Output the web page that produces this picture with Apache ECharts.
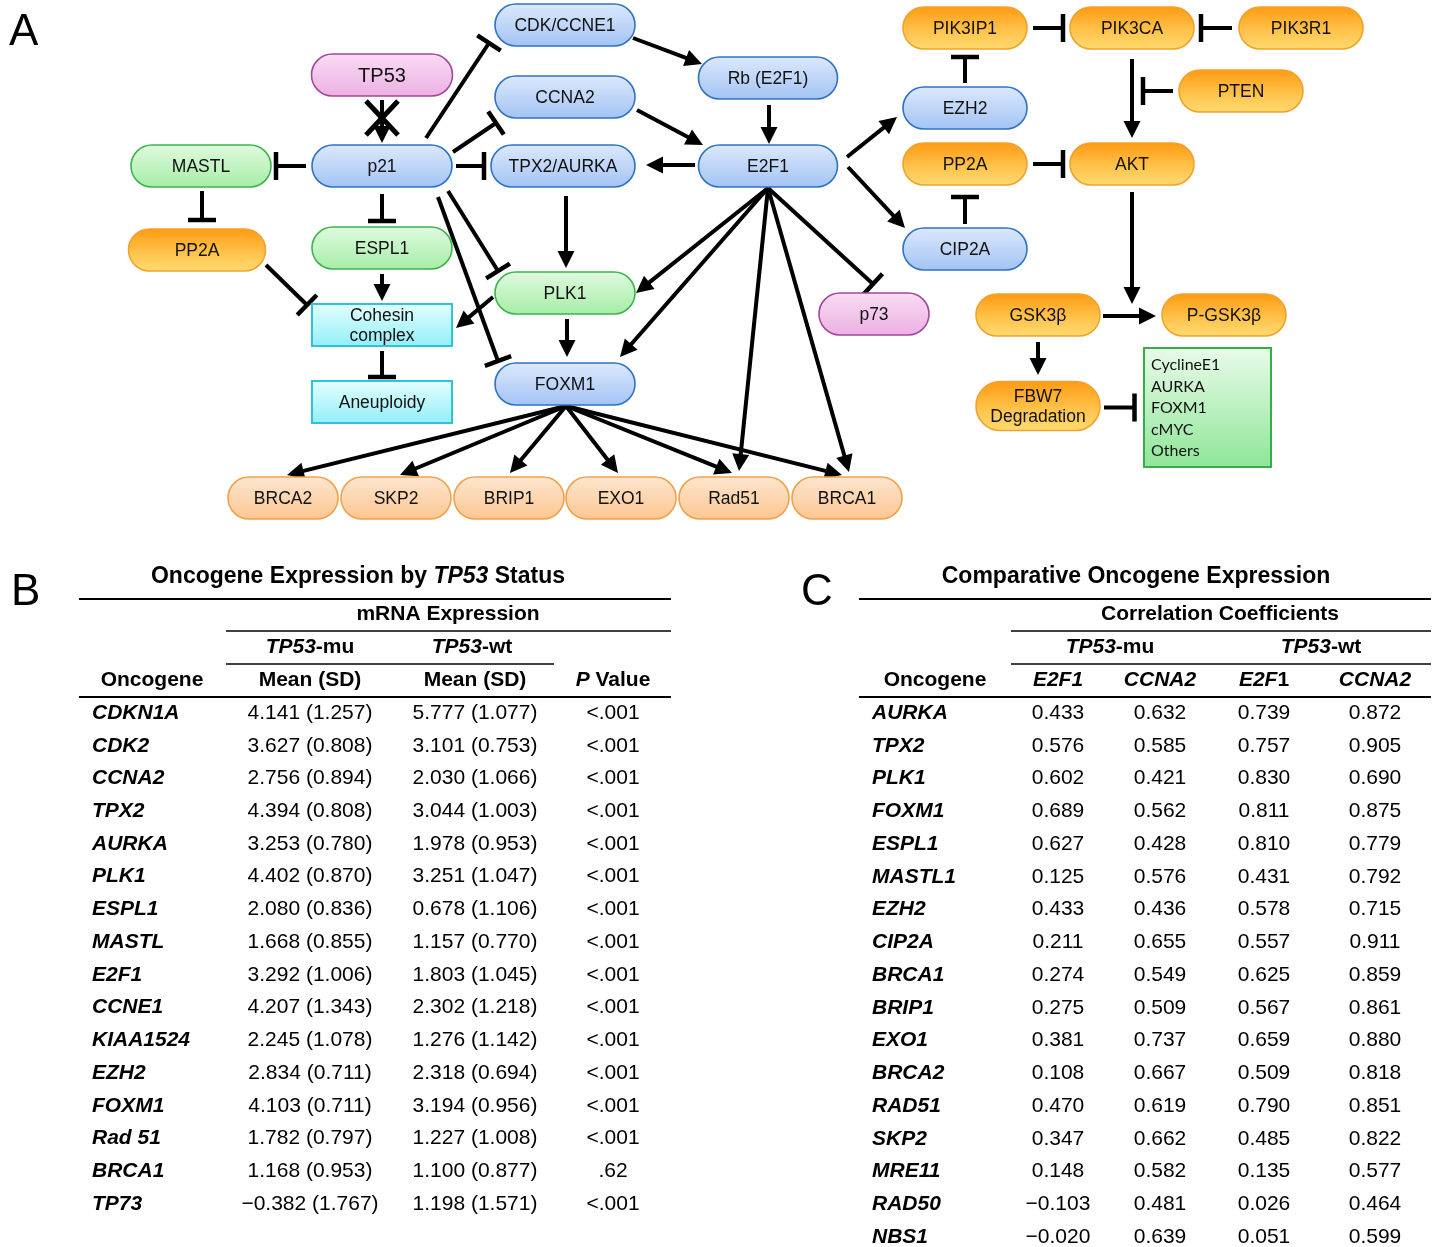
<!DOCTYPE html>
<html><head><meta charset="utf-8">
<script src="https://cdn.jsdelivr.net/npm/echarts@6/dist/echarts.min.js"></script>
<style>html,body{margin:0;padding:0;background:#fff}#c{width:1437px;height:1247px}</style>
</head><body><div id="c"></div>
<script>
// ================= DATA =================
// Panel A: pathway nodes
const nodeIds = ['TP53','p21','MASTL','PP2A_L','ESPL1','Cohesin','Aneuploidy','CDK','CCNA2','TPX2','PLK1','FOXM1','Rb','E2F1','p73',
  'BRCA2','SKP2','BRIP1','EXO1','Rad51','BRCA1','PIK3IP1','PIK3CA','PIK3R1','PTEN','EZH2','PP2A_R','AKT','CIP2A','GSK','PGSK','FBW7','TARGETS'];
const nodeLabels = ['TP53','p21','MASTL','PP2A','ESPL1','Cohesin\ncomplex','Aneuploidy','CDK/CCNE1','CCNA2','TPX2/AURKA','PLK1','FOXM1','Rb (E2F1)','E2F1','p73',
  'BRCA2','SKP2','BRIP1','EXO1','Rad51','BRCA1','PIK3IP1','PIK3CA','PIK3R1','PTEN','EZH2','PP2A','AKT','CIP2A','GSK3β','P-GSK3β','FBW7\nDegradation','CyclineE1\nAURKA\nFOXM1\ncMYC\nOthers'];
const nodeKinds = ['pink','blue','green','orange','green','cyan','cyan','blue','blue','blue','green','blue','blue','blue','pink',
  'peach','peach','peach','peach','peach','peach','orange','orange','orange','orange','blue','orange','orange','blue','orange','orange','orange','box'];
// Panel A: relations [from, to, type]
const edgeList = [
  ['TP53','p21','blocked'],['p21','MASTL','inhibit'],['MASTL','PP2A_L','inhibit'],['p21','ESPL1','inhibit'],['p21','TPX2','inhibit'],
  ['p21','CDK','inhibit'],['p21','CCNA2','inhibit'],['p21','PLK1','inhibit'],['p21','FOXM1','inhibit'],['ESPL1','Cohesin','activate'],
  ['PP2A_L','Cohesin','inhibit'],['PLK1','Cohesin','activate'],['Cohesin','Aneuploidy','inhibit'],['TPX2','PLK1','activate'],['PLK1','FOXM1','activate'],
  ['CDK','Rb','activate'],['CCNA2','E2F1','activate'],['Rb','E2F1','activate'],['E2F1','TPX2','activate'],['E2F1','PLK1','activate'],
  ['E2F1','FOXM1','activate'],['E2F1','Rad51','activate'],['E2F1','BRCA1','activate'],['E2F1','p73','inhibit'],['E2F1','EZH2','activate'],
  ['E2F1','CIP2A','activate'],['FOXM1','BRCA2','activate'],['FOXM1','SKP2','activate'],['FOXM1','BRIP1','activate'],['FOXM1','EXO1','activate'],
  ['FOXM1','Rad51','activate'],['FOXM1','BRCA1','activate'],['PIK3IP1','PIK3CA','inhibit'],['PIK3R1','PIK3CA','inhibit'],['EZH2','PIK3IP1','inhibit'],
  ['PIK3CA','AKT','activate'],['PTEN','PIK3CA','inhibit'],['PP2A_R','AKT','inhibit'],['CIP2A','PP2A_R','inhibit'],['AKT','PGSK','activate'],
  ['GSK','PGSK','activate'],['GSK','FBW7','activate'],['FBW7','TARGETS','inhibit']
];

// Panel B: oncogene expression by TP53 status
const genesB = ['CDKN1A','CDK2','CCNA2','TPX2','AURKA','PLK1','ESPL1','MASTL','E2F1','CCNE1','KIAA1524','EZH2','FOXM1','Rad 51','BRCA1','TP73'];
const muMean = [4.141,3.627,2.756,4.394,3.253,4.402,2.080,1.668,3.292,4.207,2.245,2.834,4.103,1.782,1.168,-0.382];
const muSD   = [1.257,0.808,0.894,0.808,0.780,0.870,0.836,0.855,1.006,1.343,1.078,0.711,0.711,0.797,0.953,1.767];
const wtMean = [5.777,3.101,2.030,3.044,1.978,3.251,0.678,1.157,1.803,2.302,1.276,2.318,3.194,1.227,1.100,1.198];
const wtSD   = [1.077,0.753,1.066,1.003,0.953,1.047,1.106,0.770,1.045,1.218,1.142,0.694,0.956,1.008,0.877,1.571];
const pValues = ['<.001','<.001','<.001','<.001','<.001','<.001','<.001','<.001','<.001','<.001','<.001','<.001','<.001','<.001','.62','<.001'];

// Panel C: correlation coefficients
const genesC = ['AURKA','TPX2','PLK1','FOXM1','ESPL1','MASTL1','EZH2','CIP2A','BRCA1','BRIP1','EXO1','BRCA2','RAD51','SKP2','MRE11','RAD50','NBS1'];
const muE2F1  = [0.433,0.576,0.602,0.689,0.627,0.125,0.433,0.211,0.274,0.275,0.381,0.108,0.470,0.347,0.148,-0.103,-0.020];
const muCCNA2 = [0.632,0.585,0.421,0.562,0.428,0.576,0.436,0.655,0.549,0.509,0.737,0.667,0.619,0.662,0.582,0.481,0.639];
const wtE2F1  = [0.739,0.757,0.830,0.811,0.810,0.431,0.578,0.557,0.625,0.567,0.659,0.509,0.790,0.485,0.135,0.026,0.051];
const wtCCNA2 = [0.872,0.905,0.690,0.875,0.779,0.792,0.715,0.911,0.859,0.861,0.880,0.818,0.851,0.822,0.577,0.464,0.599];

// Table header texts (rich markup: b = bold, bi = bold italic)
const headerTextsB = ['{b|Oncogene Expression by }{bi|TP53}{b| Status}','{b|mRNA Expression}','{bi|TP53}{b|-mu}','{bi|TP53}{b|-wt}',
  '{b|Oncogene}','{b|Mean (SD)}','{b|Mean (SD)}','{bi|P}{b| Value}'];
const headerTextsC = ['{b|Comparative Oncogene Expression}','{b|Correlation Coefficients}','{bi|TP53}{b|-mu}','{bi|TP53}{b|-wt}',
  '{b|Oncogene}','{bi|E2F1}','{bi|CCNA2}','{bi|E2F}{b|1}','{bi|CCNA2}'];
const panelLetters = ['A','B','C'];

// ================= LAYOUT / STYLE =================
const W = 1437, H = 1247;
const nodeLayout = { // cx, cy, w, h
  TP53:[382,75,141,42], p21:[382,166,140,42], MASTL:[201,166,140,42], PP2A_L:[197,250,137,42], ESPL1:[382,248,140,42],
  Cohesin:[382,325,140,42], Aneuploidy:[382,402,140,42], CDK:[565,25,140,42], CCNA2:[565,97,140,42], TPX2:[563,166,144,42],
  PLK1:[565,293,140,42], FOXM1:[565,384,140,42], Rb:[768,78,139,42], E2F1:[768,166,139,42], p73:[874,314,110,42],
  BRCA2:[283,498,110,42], SKP2:[396,498,110,42], BRIP1:[509,498,110,42], EXO1:[621,498,110,42], Rad51:[734,498,110,42], BRCA1:[847,498,110,42],
  PIK3IP1:[965,28,124,42], PIK3CA:[1132,28,124,42], PIK3R1:[1301,28,124,42], PTEN:[1241,91,124,42], EZH2:[965,108,124,42],
  PP2A_R:[965,164,124,42], AKT:[1132,164,124,42], CIP2A:[965,249,124,42], GSK:[1038,315,124,42], PGSK:[1224,315,124,42],
  FBW7:[1038,406,124,49], TARGETS:[1207.5,407.5,127,119]
};
const edgePorts = [ // offsets from node centres: [fromDx, fromDy, toDx, toDy]
  [0,25,0,-23],[-76,0,75,0],[1,25,5,-30],[0,28,0,-27],[74,0,-79,0],
  [44,-28,-76,18],[71,-14,-69,26],[66,25,-67,-22],[56,31,-67,-23],[0,26,0,-24],
  [69,15,-75,-20],[-72,4,74,3],[0,26,0,-25],[3,30,1,-25],[2,26,2,-27],
  [68,13,-66,-14],[72,13,-65,-21],[1,27,1,-22],[-73,-1,83,-1],[0,22,71,0],
  [0,22,55,-27],[0,22,5,-27],[0,22,2,-26],[0,22,-1,-30],[79,-9,-68,9],
  [80,1,-60,-21],[1,22,4,-23],[1,22,4,-23],[1,22,1,-25],[1,22,-3,-25],
  [1,22,-2,-25],[1,22,-5,-23],[68,0,-69,0],[-69,0,69,0],[0,-25,0,29],
  [0,31,0,-26],[-68,0,11,63],[68,0,-69,0],[0,-25,0,33],[0,28,-92,-11],
  [65,1,-68,1],[0,27,0,-31],[66,1.5,-73,0]
];
const palette = { // top, bottom, stroke
  blue:['#dce9fc','#a3c3f4','#2f72c4'],
  green:['#e0fae0','#a6eda6','#3cb44b'],
  pink:['#f9dcf4','#ecb0e2','#a2479b'],
  orange:['#ff9a12','#ffdb72','#f2a22c'],
  peach:['#fde6d0','#fbc690','#f0a24c'],
  cyan:['#e4ffff','#92eef7','#30c3d6'],
  box:['#e9fbe9','#8ee697','#35ae48']
};
const headerPosB = [[358,577,23],[448,614,21],[310,647,21],[472,647,21],[152,680,21],[310,680,21],[475,680,21],[613,680,21]];
const headerPosC = [[1136,577,23],[1220,614,21],[1110,647,21],[1321,647,21],[935,680,21],[1058,680,21],[1160,680,21],[1264,680,21],[1375,680,21]];
const ruleLines = [[79,671,599,2],[226,671,631,1.5],[226,554,664,1.5],[79,671,697,2],
                   [859,1431,599,2],[1011,1431,631,1.5],[1011,1431,664,1.5],[859,1431,697,2]];
const colXB = [92,310,475,613];
const colXC = [872,1058,1160,1264,1375];
const letterPos = [[9,33],[11,593],[801,593]];
const firstRowY = 713, rowStepB = 32.73, rowStepC = 32.75;

const FF = '"Liberation Sans", Arial, Helvetica, sans-serif';
const rich = (size) => ({
  b:{fontFamily:FF,fontSize:size,fontWeight:'bold',fill:'#000'},
  bi:{fontFamily:FF,fontSize:size,fontWeight:'bold',fontStyle:'italic',fill:'#000'},
  r:{fontFamily:FF,fontSize:size,fill:'#000'}
});
const fmt = v => (v < 0 ? '\u2212' : '') + Math.abs(v).toFixed(3);

// ================= RENDERERS =================
function textEl(x, y, text, size, align){
  return {type:'text', x:x, y:y, style:{text:text, rich:rich(size), align:align||'center', textAlign:align||'center',
    verticalAlign:'middle', textVerticalAlign:'middle'}};
}

function renderNode(params, api){
  const i = params.dataIndex, id = nodeIds[i], kind = nodeKinds[i];
  const L = nodeLayout[id];
  const c = api.coord([L[0], L[1]]);
  const s = api.size([L[2], L[3]]);
  const pal = palette[kind];
  const square = (kind === 'cyan' || kind === 'box');
  const stops = kind === 'orange'
    ? [{offset:0,color:pal[0]},{offset:0.55,color:'#ffc24a'},{offset:1,color:pal[1]}]
    : [{offset:0,color:pal[0]},{offset:1,color:pal[1]}];
  const children = [{
    type:'rect',
    shape:{x:c[0]-s[0]/2, y:c[1]-s[1]/2, width:s[0], height:s[1], r: square ? 0 : s[1]/2},
    style:{fill:new echarts.graphic.LinearGradient(0,0,0,1,stops), stroke:pal[2], lineWidth: square ? 2 : 1.6}
  }];
  if (kind === 'box') {
    children.push({type:'text', x:c[0]-s[0]/2+7, y:c[1]+0.5, style:{text:nodeLabels[i], font:'16px Lato, "Open Sans", sans-serif',
      fill:'#111', lineHeight:21.5, align:'left', textAlign:'left', verticalAlign:'middle', textVerticalAlign:'middle'}});
  } else {
    const fs = id === 'TP53' ? 20 : 17.5;
    children.push({type:'text', x:c[0], y:c[1]+1, style:{text:nodeLabels[i], font: fs+'px '+FF, fill:'#111', lineHeight:20.5,
      align:'center', textAlign:'center', verticalAlign:'middle', textVerticalAlign:'middle'}});
  }
  return {type:'group', children};
}

function renderEdge(params, api){
  const i = params.dataIndex, e = edgeList[i], P = edgePorts[i];
  const A = nodeLayout[e[0]], B = nodeLayout[e[1]];
  const p1 = api.coord([A[0]+P[0], A[1]+P[1]]);
  const p2 = api.coord([B[0]+P[2], B[1]+P[3]]);
  const dx = p2[0]-p1[0], dy = p2[1]-p1[1], len = Math.hypot(dx, dy);
  const ux = dx/len, uy = dy/len, nx = -uy, ny = ux;
  const children = [];
  const lw = 4;
  if (e[2] === 'inhibit') {
    children.push({type:'line', shape:{x1:p1[0],y1:p1[1],x2:p2[0],y2:p2[1]}, style:{stroke:'#000', lineWidth:lw}});
    const hb = 14;
    children.push({type:'line', shape:{x1:p2[0]+nx*hb, y1:p2[1]+ny*hb, x2:p2[0]-nx*hb, y2:p2[1]-ny*hb}, style:{stroke:'#000', lineWidth:4.5}});
  } else {
    const al = 17, aw = 8.5;
    const bx = p2[0]-ux*al, by = p2[1]-uy*al;
    children.push({type:'line', shape:{x1:p1[0],y1:p1[1],x2:bx+ux*2,y2:by+uy*2}, style:{stroke:'#000', lineWidth:lw}});
    children.push({type:'polygon', shape:{points:[[p2[0],p2[1]],[bx+nx*aw,by+ny*aw],[bx-nx*aw,by-ny*aw]]}, style:{fill:'#000'}});
    if (e[2] === 'blocked') {
      const mx = p1[0]+ux*len*0.42, my = p1[1]+uy*len*0.42;
      const hx = 16, hy = 17;
      children.push({type:'line', shape:{x1:mx-hx,y1:my-hy,x2:mx+hx,y2:my+hy}, style:{stroke:'#000', lineWidth:5}});
      children.push({type:'line', shape:{x1:mx+hx,y1:my-hy,x2:mx-hx,y2:my+hy}, style:{stroke:'#000', lineWidth:5}});
    }
  }
  return {type:'group', children};
}

function renderHeaders(texts, pos){
  return function(params, api){
    const i = params.dataIndex;
    const p = api.coord([pos[i][0], pos[i][1]]);
    return textEl(p[0], p[1], texts[i], pos[i][2], 'center');
  };
}

function renderRule(params, api){
  const r = ruleLines[params.dataIndex];
  const a = api.coord([r[0], r[2]]), b = api.coord([r[1], r[2]]);
  return {type:'line', shape:{x1:a[0],y1:a[1],x2:b[0],y2:b[1]}, style:{stroke:'#000', lineWidth:r[3]}};
}

function renderRowB(params, api){
  const i = params.dataIndex;
  const xs = colXB.map(x => api.coord([x, i]));
  return {type:'group', children:[
    textEl(xs[0][0], xs[0][1], '{bi|'+genesB[i]+'}', 21, 'left'),
    textEl(xs[1][0], xs[1][1], '{r|'+fmt(muMean[i])+' ('+muSD[i].toFixed(3)+')}', 21),
    textEl(xs[2][0], xs[2][1], '{r|'+fmt(wtMean[i])+' ('+wtSD[i].toFixed(3)+')}', 21),
    textEl(xs[3][0], xs[3][1], '{r|'+pValues[i]+'}', 21)
  ]};
}

function renderRowC(params, api){
  const i = params.dataIndex;
  const xs = colXC.map(x => api.coord([x, i]));
  const vals = [muE2F1[i], muCCNA2[i], wtE2F1[i], wtCCNA2[i]];
  const ch = [textEl(xs[0][0], xs[0][1], '{bi|'+genesC[i]+'}', 21, 'left')];
  vals.forEach((v,k) => ch.push(textEl(xs[k+1][0], xs[k+1][1], '{r|'+fmt(v)+'}', 21)));
  return {type:'group', children:ch};
}

// ================= CHART =================
const chart = echarts.init(document.getElementById('c'), null, {renderer:'canvas', width:W, height:H});
chart.setOption({
  animation:false,
  backgroundColor:'#fff',
  grid:[
    {left:0, top:0, width:W, height:H},
    {left:0, top:firstRowY, width:W, height:rowStepB*(genesB.length-1)},
    {left:0, top:firstRowY, width:W, height:rowStepC*(genesC.length-1)}
  ],
  xAxis:[0,1,2].map(g => ({type:'value', gridIndex:g, min:0, max:W, show:false})),
  yAxis:[
    {type:'value', gridIndex:0, min:0, max:H, inverse:true, show:false},
    {type:'category', gridIndex:1, data:genesB, inverse:true, boundaryGap:false, show:false},
    {type:'category', gridIndex:2, data:genesC, inverse:true, boundaryGap:false, show:false}
  ],
  graphic: panelLetters.map((t,k) => ({type:'text', x:letterPos[k][0], y:letterPos[k][1],
    style:{text:t, font:'44px '+FF, fill:'#000', textVerticalAlign:'middle', verticalAlign:'middle'}})),
  series:[
    {type:'custom', name:'edges', xAxisIndex:0, yAxisIndex:0, clip:false, renderItem:renderEdge,
      data: edgeList.map((e,i) => [nodeLayout[e[0]][0], nodeLayout[e[0]][1]])},
    {type:'custom', name:'nodes', xAxisIndex:0, yAxisIndex:0, clip:false, renderItem:renderNode,
      data: nodeIds.map(id => [nodeLayout[id][0], nodeLayout[id][1]])},
    {type:'custom', name:'rules', xAxisIndex:0, yAxisIndex:0, clip:false, renderItem:renderRule,
      data: ruleLines.map(r => [r[0], r[2]])},
    {type:'custom', name:'headB', xAxisIndex:0, yAxisIndex:0, clip:false, renderItem:renderHeaders(headerTextsB, headerPosB),
      data: headerPosB.map(p => [p[0], p[1]])},
    {type:'custom', name:'headC', xAxisIndex:0, yAxisIndex:0, clip:false, renderItem:renderHeaders(headerTextsC, headerPosC),
      data: headerPosC.map(p => [p[0], p[1]])},
    {type:'custom', name:'tableB', xAxisIndex:1, yAxisIndex:1, clip:false, renderItem:renderRowB,
      data: genesB.map((g,i) => [colXB[1], i])},
    {type:'custom', name:'tableC', xAxisIndex:2, yAxisIndex:2, clip:false, renderItem:renderRowC,
      data: genesC.map((g,i) => [colXC[1], i])}
  ]
});
</script></body></html>
